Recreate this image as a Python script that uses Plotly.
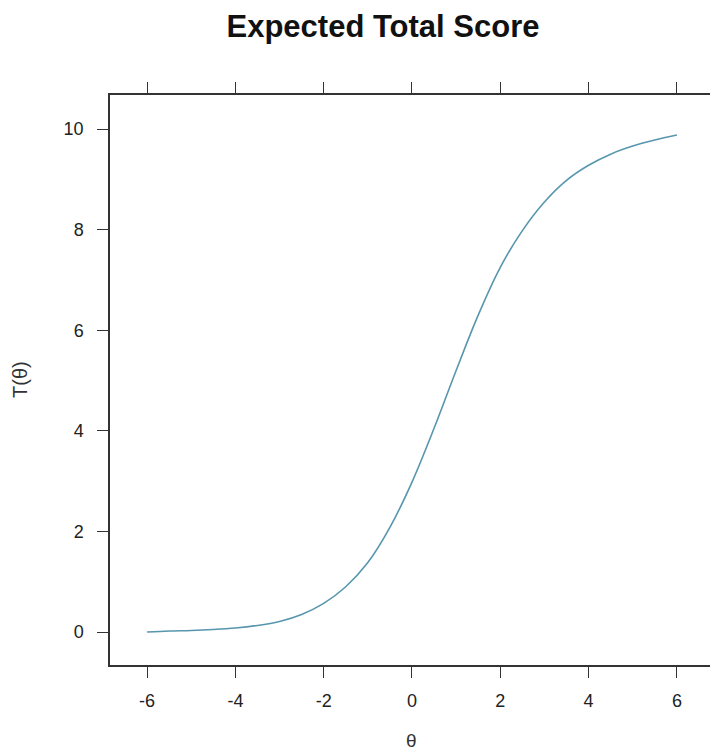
import plotly.graph_objects as go

theta = [-6, -5.5, -5, -4.5, -4, -3.5, -3, -2.5, -2, -1.5, -1, -0.5, 0,
         0.5, 1, 1.5, 2, 2.5, 3, 3.5, 4, 4.5, 5, 5.5, 6]
expected_score = [0.00, 0.02, 0.03, 0.05, 0.08, 0.13, 0.21, 0.35, 0.57, 0.90,
                  1.38, 2.08, 2.98, 4.05, 5.20, 6.30, 7.25, 7.98, 8.55, 8.98,
                  9.28, 9.50, 9.66, 9.78, 9.88]
x_ticks = [-6, -4, -2, 0, 2, 4, 6]
y_ticks = [0, 2, 4, 6, 8, 10]

W, H = 710, 751
L, R, T, B = 110, 0, 95, 86
pw, ph = W - L - R, H - T - B

fig = go.Figure()
fig.add_trace(go.Scatter(
    x=theta, y=expected_score, mode="lines",
    line=dict(color="#5796ad", width=1.6, shape="spline"),
    showlegend=False, hoverinfo="x+y"))

FONT = "Liberation Sans, Arial, sans-serif"
axis_font = dict(family=FONT, size=18, color="#222")

fig.update_layout(
    width=W, height=H,
    margin=dict(l=L, r=R, t=T, b=B),
    paper_bgcolor="white", plot_bgcolor="white",
    title=dict(text="<b>Expected Total Score</b>",
               font=dict(family=FONT, size=31, color="#111"),
               x=383 / W, xref="container", xanchor="center",
               y=1 - 26 / H, yref="container", yanchor="middle"),
    xaxis=dict(range=[-6.84, 6.75], tickvals=x_ticks, ticktext=[str(v) for v in x_ticks],
               showgrid=False, zeroline=False, showline=True, linecolor="#333", linewidth=1.5,
               mirror="ticks", ticks="outside", ticklen=11, tickwidth=1.3, tickcolor="#333",
               tickfont=axis_font, ticklabelstandoff=8),
    yaxis=dict(range=[-0.656, 10.676], tickvals=y_ticks, ticktext=[str(v) for v in y_ticks],
               showgrid=False, zeroline=False, showline=True, linecolor="#333", linewidth=1.5,
               ticks="outside", ticklen=11, tickwidth=1.3, tickcolor="#333",
               tickfont=axis_font, ticklabelstandoff=10),
    annotations=[
        dict(text="θ", xref="paper", yref="paper", x=(411 - L) / pw, y=(665 - 740) / ph,
             showarrow=False, xanchor="center", yanchor="middle",
             font=dict(family=FONT, size=19, color="#333")),
        dict(text="T(θ)", xref="paper", yref="paper", x=(20 - L) / pw, y=(665 - 380) / ph,
             showarrow=False, xanchor="center", yanchor="middle", textangle=-90,
             font=dict(family=FONT, size=20, color="#333")),
    ],
)

fig.write_html("out.html", config={"displayModeBar": False},
               post_script="document.body.style.margin='0';document.body.style.overflow='hidden';")
